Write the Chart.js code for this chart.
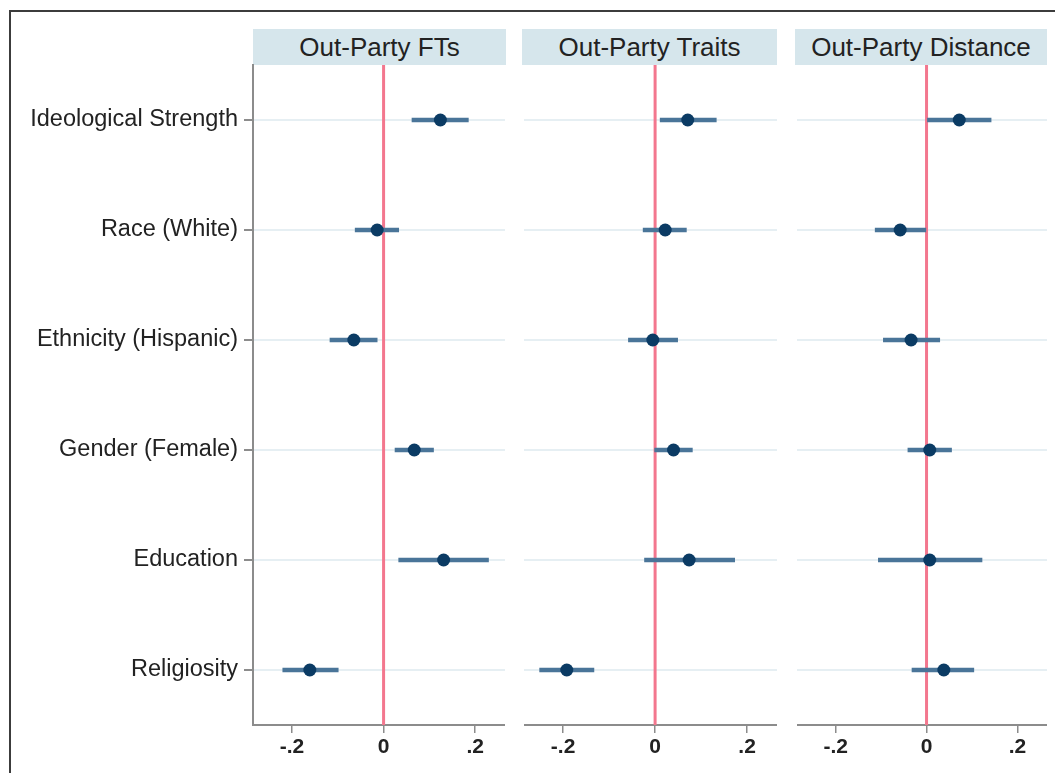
<!DOCTYPE html>
<html>
<head>
<meta charset="utf-8">
<script src="https://cdn.jsdelivr.net/npm/chart.js@4"></script>
<style>
    html, body { margin: 0; padding: 0; background: #ffffff; }
    body { width: 1055px; height: 773px; position: relative; overflow: hidden; font-family: "Liberation Sans", Arial, sans-serif; }
    .frame { position: absolute; left: 9px; top: 10px; width: 1060px; height: 780px; border-top: 2px solid #3c3c3c; border-left: 2px solid #3c3c3c; }
    .panel-title { position: absolute; top: 29px; height: 36px; line-height: 37px; background: #d6e6ec; color: #222; font-size: 26px; text-align: center; white-space: nowrap; }
    canvas { position: absolute; top: 0; }
</style>
</head>
<body>
<div class="frame"></div>
<div class="panel-title" id="title0" style="left:253px;width:253px;"></div>
<div class="panel-title" id="title1" style="left:522px;width:255px;"></div>
<div class="panel-title" id="title2" style="left:795px;width:252px;"></div>
<canvas id="panel0" width="505" height="773" style="left:0px;"></canvas>
<canvas id="panel1" width="253" height="773" style="left:524px;"></canvas>
<canvas id="panel2" width="250" height="773" style="left:797px;"></canvas>

<script>
/* ---------------------------
   CHART DATA
---------------------------*/
const categories = ['Ideological Strength', 'Race (White)', 'Ethnicity (Hispanic)', 'Gender (Female)', 'Education', 'Religiosity'];
const panelTitles = ['Out-Party FTs', 'Out-Party Traits', 'Out-Party Distance'];

// Out-Party FTs
const ftsCoef = [0.124, -0.014, -0.065, 0.067, 0.131, -0.161];
const ftsLow  = [0.062, -0.062, -0.117, 0.025, 0.033, -0.220];
const ftsHigh = [0.185, 0.033, -0.014, 0.109, 0.229, -0.099];

// Out-Party Traits
const traitsCoef = [0.071, 0.022, -0.005, 0.040, 0.074, -0.192];
const traitsLow  = [0.011, -0.026, -0.058, -0.001, -0.023, -0.251];
const traitsHigh = [0.133, 0.068, 0.049, 0.081, 0.173, -0.133];

// Out-Party Distance
const distCoef = [0.072, -0.058, -0.034, 0.007, 0.007, 0.038];
const distLow  = [0.002, -0.113, -0.095, -0.041, -0.106, -0.032];
const distHigh = [0.142, 0.000, 0.029, 0.055, 0.122, 0.104];

const xTickValues = [-0.2, 0, 0.2];
const xTickLabels = ['-.2', '0', '.2'];

const FONT = '"Liberation Sans", Arial, sans-serif';

/* ---------------------------
   ZERO REFERENCE LINE
---------------------------*/
const zeroLine = {
    id: 'zeroLine',
    beforeDatasetsDraw(chart) {
        const { ctx, chartArea, scales } = chart;
        const x = scales.x.getPixelForValue(0);
        ctx.save();
        ctx.strokeStyle = '#f3778e';
        ctx.lineWidth = 3;
        ctx.beginPath();
        ctx.moveTo(x, chartArea.top);
        ctx.lineTo(x, chartArea.bottom);
        ctx.stroke();
        ctx.restore();
    }
};

/* ---------------------------
   INITIALIZE CHART
---------------------------*/
function initializeChart(canvasId, coef, low, high, showLabels) {
    const ctx = document.getElementById(canvasId);

    return new Chart(ctx, {
        data: {
            labels: categories,
            datasets: [{
                type: 'line',
                indexAxis: 'y',
                data: coef,
                showLine: false,
                clip: false,
                pointRadius: 6.5,
                pointBackgroundColor: '#0b3b64',
                pointBorderColor: '#0b3b64',
                pointBorderWidth: 0,
                order: 0
            }, {
                type: 'bar',
                indexAxis: 'y',
                data: low.map((v, i) => [v, high[i]]),
                backgroundColor: '#4a7599',
                barThickness: 4,
                borderWidth: 0,
                order: 1
            }]
        },
        options: {
            indexAxis: 'y',
            responsive: false,
            animation: false,
            layout: { autoPadding: false, padding: { top: 65, left: 0, right: 0, bottom: 0 } },
            plugins: {
                legend: { display: false },
                tooltip: { enabled: false }
            },
            scales: {
                x: {
                    type: 'linear',
                    min: -0.285,
                    max: 0.265,
                    afterBuildTicks: axis => {
                        axis.ticks = xTickValues.map(v => ({ value: v }));
                    },
                    afterFit: axis => {
                        axis.height = 48;
                        axis.paddingLeft = 0;
                        axis.paddingRight = 0;
                    },
                    border: { display: true, color: '#8c8c8c', width: 2 },
                    grid: {
                        drawOnChartArea: false,
                        drawTicks: true,
                        tickLength: 8,
                        tickColor: '#8c8c8c',
                        lineWidth: 1.5
                    },
                    ticks: {
                        color: '#222',
                        padding: 2,
                        font: { family: FONT, size: 21, weight: 'bold' },
                        callback: (value) => xTickLabels[xTickValues.indexOf(value)]
                    }
                },
                y: {
                    type: 'category',
                    offset: true,
                    afterFit: axis => { axis.width = showLabels ? 253 : 0; },
                    border: { display: showLabels, color: '#8c8c8c', width: 2 },
                    grid: {
                        offset: false,
                        color: '#e6eff3',
                        lineWidth: 2,
                        drawTicks: showLabels,
                        tickLength: 9,
                        tickColor: '#8c8c8c'
                    },
                    ticks: {
                        display: showLabels,
                        color: '#222',
                        padding: 6,
                        font: { family: FONT, size: 23.5 }
                    }
                }
            }
        },
        plugins: [zeroLine]
    });
}

/* ---------------------------
   INITIALIZATION
---------------------------*/
panelTitles.forEach((t, i) => {
    document.getElementById('title' + i).textContent = t;
});

initializeChart('panel0', ftsCoef, ftsLow, ftsHigh, true);
initializeChart('panel1', traitsCoef, traitsLow, traitsHigh, false);
initializeChart('panel2', distCoef, distLow, distHigh, false);
</script>
</body>
</html>
